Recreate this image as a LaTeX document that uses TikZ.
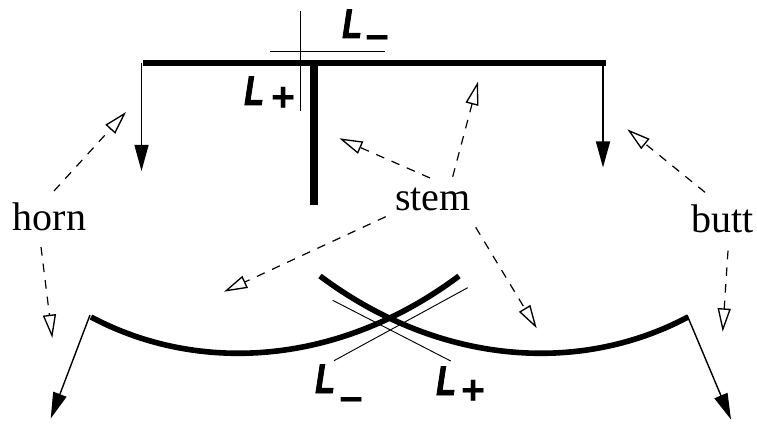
\documentclass[tikz,border=0pt]{standalone}
\usepackage{fontspec}
\setmainfont{Liberation Serif}
\newfontface\lblfont{Liberation Sans Bold Italic}[FakeStretch=0.78,FakeBold=2]
\newfontface\signfont{Liberation Sans Bold}
\usetikzlibrary{arrows.meta}
\newcommand{\symL}[3]{{\lblfont L}\hspace{#1}\raisebox{#2}{\signfont #3}}
\tikzset{
  thickbar/.style={line width=5.1pt,line cap=butt},
  thickcurve/.style={line width=4.2pt},
  thinline/.style={line width=0.7pt},
  solidarrow/.style={line width=1.05pt,-{Triangle[length=19.5pt,width=10.5pt]}},
  openarrow/.style={line width=0.9pt,dash pattern=on 6.5pt off 6pt,-{Triangle[open,length=17.5pt,width=9.8pt,line width=1pt,sep=0pt]}},
  wordlabel/.style={font=\fontsize{30}{32}\selectfont,inner sep=0pt,anchor=base},
  symlabel/.style={font=\fontsize{31}{33}\selectfont,inner sep=0pt,anchor=base west}
}
\begin{document}
\begin{tikzpicture}[x=0.75pt,y=-0.75pt]
\useasboundingbox (0,0) rectangle (757,424);
% named points
\coordinate (barL) at (143,63); \coordinate (barR) at (606,63);
\coordinate (stemT) at (314,63); \coordinate (stemB) at (314,205);
\coordinate (vT) at (300,11); \coordinate (vB) at (300,111);
\coordinate (hL) at (270,51.5); \coordinate (hR) at (385,51.5);
\coordinate (a1s) at (141.5,63); \coordinate (a1e) at (141.5,171);
\coordinate (a2s) at (603,63); \coordinate (a2e) at (603,167.5);
\coordinate (lS) at (91,317); \coordinate (lE) at (459,276);
\coordinate (rS) at (320,276); \coordinate (rE) at (688,317);
\coordinate (a3s) at (90,315); \coordinate (a3e) at (50.7,418.5);
\coordinate (a4s) at (687,315); \coordinate (a4e) at (731,419.5);
\coordinate (t1a) at (332.7,300.3); \coordinate (t1b) at (450.7,361);
\coordinate (t2a) at (334,360.7); \coordinate (t2b) at (467.7,287.7);
% nodes
\node[wordlabel] (horn) at (49.5,230) {horn};
\node[wordlabel] (butt) at (722.5,232.5) {butt};
\node[wordlabel] (stem) at (433,210) {stem};
\node[symlabel] (lm1) at (342,38) {\symL{2.5pt}{-10pt}{\char"2212}};
\node[symlabel] (lp1) at (244,105) {\symL{5.5pt}{-5pt}{+}};
\node[symlabel] (lm2) at (315,393) {\symL{3.5pt}{-15pt}{\char"2212}};
\node[symlabel] (lp2) at (436,395) {\symL{4.5pt}{-7pt}{+}};
% thick lines
\draw[thickbar] (barL) -- (barR);
\draw[thickbar,line width=5.4pt] (stemT) -- (stemB);
\draw[thickcurve] (lS) .. controls (200,375) and (340,365) .. (lE);
\draw[thickcurve] (rS) .. controls (439,365) and (579,375) .. (rE);
% thin lines
\draw[thinline] (vT) -- (vB);
\draw[thinline] (hL) -- (hR);
\draw[thinline] (t1a) -- (t1b);
\draw[thinline] (t2a) -- (t2b);
% solid arrows
\draw[solidarrow] (a1s) -- (a1e);
\draw[solidarrow] (a2s) -- (a2e);
\draw[solidarrow] (a3s) -- (a3e);
\draw[solidarrow] (a4s) -- (a4e);
% dashed arrows
\coordinate (h1s) at (54,191); \coordinate (h1e) at (126,112);
\coordinate (h2s) at (41,247); \coordinate (h2e) at (52.3,338);
\coordinate (b1s) at (705,192.3); \coordinate (b1e) at (627.3,129.3);
\coordinate (b2s) at (728,250.7); \coordinate (b2e) at (722.7,331.7);
\coordinate (s1s) at (452.7,176.7); \coordinate (s1e) at (478,81.7);
\coordinate (s2s) at (430,178); \coordinate (s2e) at (339.3,138.3);
\coordinate (s3s) at (385.7,216.7); \coordinate (s3e) at (224,291.7);
\coordinate (s4s) at (475.7,227.3); \coordinate (s4e) at (536.7,328.3);
\foreach \a/\b in {h1s/h1e,h2s/h2e,b1s/b1e,b2s/b2e,s1s/s1e,s2s/s2e,s3s/s3e,s4s/s4e}
  \draw[openarrow] (\a) -- (\b);
\end{tikzpicture}
\end{document}
